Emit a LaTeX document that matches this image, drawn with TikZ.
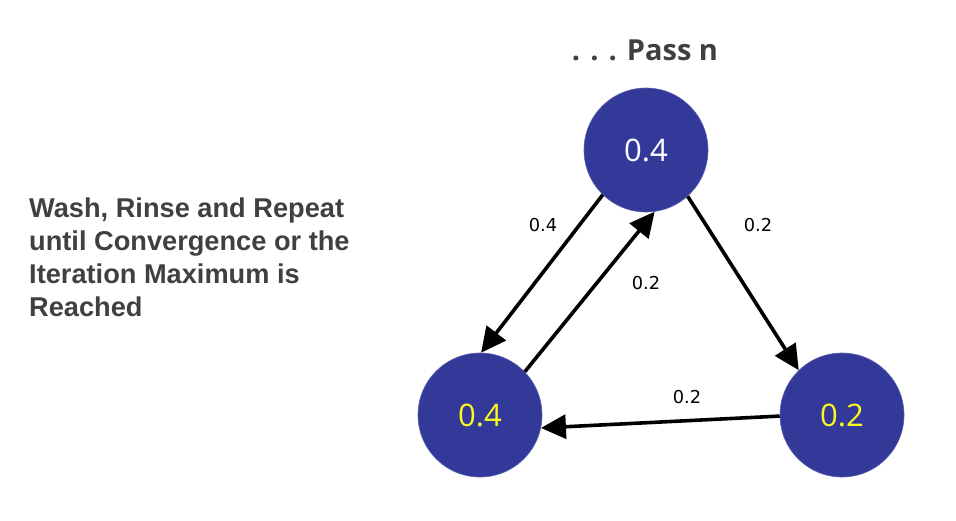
\documentclass[tikz,border=0pt]{standalone}
\usepackage{fontspec}
\setmainfont{Liberation Sans}
\newfontfamily\opensans{Open Sans}
\newfontfamily\dejavu{DejaVu Sans}
\usetikzlibrary{arrows.meta}
\definecolor{nodeblue}{RGB}{50,57,152}
\definecolor{txtgray}{RGB}{64,64,64}
\definecolor{valyellow}{RGB}{250,250,30}
\tikzset{
  pr/.style={circle, fill=nodeblue, draw=nodeblue!80!white, line width=0.6pt, minimum size=124pt, inner sep=0pt, font=\opensans\fontsize{31}{33}\selectfont},
  edge/.style={line width=3.6pt, -{Triangle[length=25pt,width=24pt]}, shorten >=0pt},
  elabel/.style={font=\dejavu\fontsize{17.8}{20}\selectfont, text=black},
}
\begin{document}
\begin{tikzpicture}[x=1pt,y=-1pt]
\useasboundingbox (0,0) rectangle (956,520);
\node[font=\opensans\bfseries\fontsize{29}{32}\selectfont, text=txtgray] (title) at (645,50) {. . . Pass n};
\node[anchor=north west, align=left, text=txtgray, font=\bfseries\fontsize{27.2}{33}\selectfont, inner sep=0pt] (desc) at (29,198) {Wash, Rinse and Repeat\\until Convergence or the\\Iteration Maximum is\\Reached};
\node[pr, text=white] (t) at (646,150) {0.4};
\node[pr, text=valyellow] (l) at (480,415) {0.4};
\node[pr, text=valyellow] (r) at (842,415) {0.2};
\draw[edge] (t.226) -- (l.89);
\draw[edge] (l.44) -- (t.278);
\draw[edge] (t.312) -- (r.134);
\draw[edge] (r.181) -- (l.348);
\node[elabel] (la) at (543,225) {0.4};
\node[elabel] (lb) at (758,225) {0.2};
\node[elabel] (lc) at (646,283) {0.2};
\node[elabel] (ld) at (687,397) {0.2};
\end{tikzpicture}
\end{document}
